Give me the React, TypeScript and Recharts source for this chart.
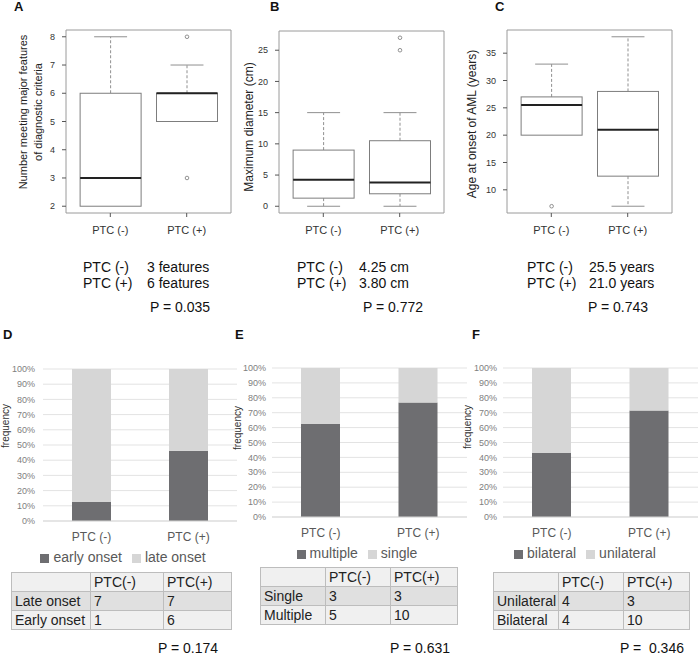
import React from "react";
import {
  ComposedChart,
  BarChart,
  Bar,
  XAxis,
  YAxis,
  CartesianGrid,
  ReferenceArea,
  Legend,
} from "recharts";

const FONT = '"Liberation Sans", Arial, Helvetica, sans-serif';

const groups = ["PTC (-)", "PTC (+)"];
const groupPos = [1, 2];

// A: number of major features
const featMin = [2, 5];
const featQ1 = [2, 5];
const featMed = [3, 6];
const featQ3 = [6, 6];
const featMax = [8, 7];
const featOut = [[], [3, 8]];

// B: maximum diameter (cm)
const diamMin = [0, 0];
const diamQ1 = [1.3, 2];
const diamMed = [4.25, 3.8];
const diamQ3 = [9, 10.5];
const diamMax = [15, 15];
const diamOut = [[], [25, 27]];

// C: age at onset of AML
const ageMin = [20, 7];
const ageQ1 = [20, 12.5];
const ageMed = [25.5, 21];
const ageQ3 = [27, 28];
const ageMax = [33, 38];
const ageOut = [[7], []];

// D-F: stacked percentages
const earlyPct = [12.5, 46.2];
const latePct = [87.5, 53.8];
const multiplePct = [62.5, 76.9];
const singlePct = [37.5, 23.1];
const bilateralPct = [42.9, 71.4];
const unilateralPct = [57.1, 28.6];
const pctTicks = [0, 10, 20, 30, 40, 50, 60, 70, 80, 90, 100];

// tables
const tableHead = ["", "PTC(-)", "PTC(+)"];
const onsetLabels = ["Late onset", "Early onset"];
const onsetNeg = [7, 1];
const onsetPos = [7, 6];
const lesionLabels = ["Single", "Multiple"];
const lesionNeg = [3, 5];
const lesionPos = [3, 10];
const sideLabels = ["Unilateral", "Bilateral"];
const sideNeg = [4, 4];
const sidePos = [3, 10];

function boxRows(mn: number[], q1: number[], med: number[], q3: number[], mx: number[], out: number[][]) {
  return groups.map((name, i) => ({
    name,
    pos: groupPos[i],
    min: mn[i],
    q1: q1[i],
    med: med[i],
    q3: q3[i],
    max: mx[i],
    out: out[i],
    lo: Math.min(mn[i], ...out[i]),
    hi: Math.max(mx[i], ...out[i]),
  }));
}

const BoxShape = (props: any) => {
  const { x, y, width, height, payload } = props;
  if (x == null || payload == null) return null;
  const top = Math.min(y, y + height);
  const bottom = Math.max(y, y + height);
  const { lo, hi } = payload;
  const py = (v: number) => (hi === lo ? top : top + ((hi - v) / (hi - lo)) * (bottom - top));
  const cx = x + width / 2;
  const cap = width * 0.27;
  const wc = "#8f8f8f";
  return (
    <g>
      {payload.max > payload.q3 && (
        <>
          <line x1={cx} x2={cx} y1={py(payload.q3)} y2={py(payload.max)} stroke={wc} strokeDasharray="3 2" />
          <line x1={cx - cap} x2={cx + cap} y1={py(payload.max)} y2={py(payload.max)} stroke={wc} />
        </>
      )}
      {payload.min < payload.q1 && (
        <>
          <line x1={cx} x2={cx} y1={py(payload.q1)} y2={py(payload.min)} stroke={wc} strokeDasharray="3 2" />
          <line x1={cx - cap} x2={cx + cap} y1={py(payload.min)} y2={py(payload.min)} stroke={wc} />
        </>
      )}
      <rect x={x} y={py(payload.q3)} width={width} height={py(payload.q1) - py(payload.q3)} fill="#fff" stroke="#7d7d7d" />
      <line x1={x} x2={x + width} y1={py(payload.med)} y2={py(payload.med)} stroke="#222" strokeWidth={2} />
      {payload.out.map((v: number, k: number) => (
        <circle key={k} cx={cx} cy={py(v)} r={1.8} fill="none" stroke="#777" strokeWidth={0.8} />
      ))}
    </g>
  );
};

const xDom: [number, number] = [0.42, 2.58];

function BoxPanel(p: { left: number; yw: number; mr: number; mt: number; domain: [number, number]; ticks: number[]; rows: any[] }) {
  return (
    <div style={{ position: "absolute", left: p.left, top: 0 }}>
      <ComposedChart width={240} height={245} data={p.rows} margin={{ top: p.mt, right: p.mr, bottom: 2, left: 0 }}>
        <XAxis
          dataKey="pos"
          type="number"
          domain={xDom}
          ticks={groupPos}
          interval={0}
          tickFormatter={(v: number) => groups[v - 1]}
          axisLine={false}
          tickLine={{ stroke: "#555" }}
          tickSize={4}
          tickMargin={9}
          height={30}
          tick={{ fontSize: 11, fill: "#333", fontFamily: FONT }}
          allowDataOverflow
        />
        <YAxis
          type="number"
          domain={p.domain}
          ticks={p.ticks}
          interval={0}
          width={p.yw}
          axisLine={false}
          tickLine={{ stroke: "#555" }}
          tickSize={4}
          tickMargin={7}
          tick={{ fontSize: 9, fill: "#333", fontFamily: FONT }}
          allowDataOverflow
        />
        <ReferenceArea x1={xDom[0]} x2={xDom[1]} y1={p.domain[0]} y2={p.domain[1]} fill="none" stroke="#9a9a9a" ifOverflow="visible" />
        <Bar dataKey={(d: any) => [d.lo, d.hi]} barSize={61} shape={BoxShape} isAnimationActive={false} />
      </ComposedChart>
    </div>
  );
}

function StackPanel(p: {
  left: number;
  yw: number;
  mr: number;
  mt: number;
  mb: number;
  tm: number;
  a: number[];
  b: number[];
  aName: string;
  bName: string;
  legendLeft: number;
  legendTop: number;
}) {
  const rows = groups.map((name, i) => ({ name, a: p.a[i], b: p.b[i] }));
  return (
    <div style={{ position: "absolute", left: p.left, top: 340 }}>
      <BarChart width={240} height={240} data={rows} margin={{ top: p.mt, right: p.mr, bottom: p.mb, left: 0 }}>
        <CartesianGrid vertical={false} stroke="#e3e3e3" />
        <XAxis
          dataKey="name"
          tickLine={false}
          axisLine={{ stroke: "#d9d9d9" }}
          tickSize={6}
          tickMargin={5}
          height={19}
          interval={0}
          tick={{ fontSize: 12, fill: "#595959", fontFamily: FONT }}
        />
        <YAxis
          type="number"
          domain={[0, 100]}
          ticks={pctTicks}
          interval={0}
          tickFormatter={(v: number) => `${v}%`}
          width={p.yw}
          axisLine={false}
          tickLine={false}
          tickMargin={p.tm}
          tick={{ fontSize: 9, fill: "#808080", fontFamily: FONT }}
        />
        <Legend
          verticalAlign="middle"
          align="center"
          layout="horizontal"
          iconType="square"
          iconSize={9}
          wrapperStyle={{ top: p.legendTop, left: p.legendLeft, width: 240, fontSize: 14, fontFamily: FONT, lineHeight: "18px" }}
          formatter={(v: string) => <span style={{ color: "#595959" }}>{v}</span>}
        />
        <Bar dataKey="a" name={p.aName} stackId="s" fill="#6e6e71" barSize={39} isAnimationActive={false} />
        <Bar dataKey="b" name={p.bName} stackId="s" fill="#d6d6d6" barSize={39} isAnimationActive={false} />
      </BarChart>
    </div>
  );
}

function CountTable(p: { left: number; top: number; widths: number[]; labels: string[]; neg: number[]; pos: number[] }) {
  const bgs = ["#f0f0f0", "#e0e0e0", "#f0f0f0"];
  const td = (w: number, bg: string): React.CSSProperties => ({
    width: w,
    height: 19,
    border: "1px solid #bdbdbd",
    padding: "0 3px",
    background: bg,
    lineHeight: "18px",
    whiteSpace: "nowrap",
    boxSizing: "border-box",
  });
  const body = [tableHead, ...p.labels.map((l, i) => [l, String(p.neg[i]), String(p.pos[i])])];
  return (
    <table
      style={{
        position: "absolute",
        left: p.left,
        top: p.top,
        borderCollapse: "collapse",
        tableLayout: "fixed",
        width: p.widths.reduce((s, w) => s + w, 0),
        fontFamily: FONT,
        fontSize: 14,
        color: "#222",
      }}
    >
      <tbody>
        {body.map((r, i) => (
          <tr key={i}>
            {r.map((c, j) => (
              <td key={j} style={td(p.widths[j], bgs[i])}>
                {c}
              </td>
            ))}
          </tr>
        ))}
      </tbody>
    </table>
  );
}

const T = (p: { x: number; y: number; s?: number; lh?: number; bold?: boolean; color?: string; children: React.ReactNode }) => (
  <div
    style={{
      position: "absolute",
      left: p.x,
      top: p.y,
      fontSize: p.s ?? 14,
      lineHeight: `${p.lh ?? 16}px`,
      fontWeight: p.bold ? "bold" : "normal",
      color: p.color ?? "#111",
      whiteSpace: "pre",
      fontFamily: FONT,
    }}
  >
    {p.children}
  </div>
);

const VT = (p: { x: number; y: number; s: number; color?: string; children: React.ReactNode }) => (
  <div
    style={{
      position: "absolute",
      left: p.x,
      top: p.y,
      fontSize: p.s,
      lineHeight: `${p.s + 2}px`,
      color: p.color ?? "#222",
      whiteSpace: "nowrap",
      fontFamily: FONT,
      transform: "translate(-50%, -50%) rotate(-90deg)",
    }}
  >
    {p.children}
  </div>
);

export default function App() {
  return (
    <div style={{ position: "absolute", left: 0, top: 0, width: 700, height: 655, background: "#fff", overflow: "hidden", fontFamily: FONT }}>
      <BoxPanel left={0} yw={66} mr={9} mt={30} domain={[1.76, 8.24]} ticks={[2, 3, 4, 5, 6, 7, 8]} rows={boxRows(featMin, featQ1, featMed, featQ3, featMax, featOut)} />
      <BoxPanel left={230} yw={49} mr={26} mt={31} domain={[-1.08, 28.08]} ticks={[0, 5, 10, 15, 20, 25]} rows={boxRows(diamMin, diamQ1, diamMed, diamQ3, diamMax, diamOut)} />
      <BoxPanel left={460} yw={47} mr={28} mt={30} domain={[5.76, 39.24]} ticks={[10, 15, 20, 25, 30, 35]} rows={boxRows(ageMin, ageQ1, ageMed, ageQ3, ageMax, ageOut)} />

      <StackPanel left={0} yw={43} mr={3} mt={29} mb={40} tm={2} a={earlyPct} b={latePct} aName="early onset" bName="late onset" legendLeft={8} legendTop={208} />
      <StackPanel left={230} yw={42} mr={3} mt={28} mb={44} tm={0} a={multiplePct} b={singlePct} aName="multiple" bName="single" legendLeft={12} legendTop={204} />
      <StackPanel left={460} yw={43} mr={2} mt={28} mb={44} tm={0} a={bilateralPct} b={unilateralPct} aName="bilateral" bName="unilateral" legendLeft={10} legendTop={204} />

      <T x={14} y={-1} s={13} bold>A</T>
      <T x={270} y={-1} s={13} bold>B</T>
      <T x={495} y={-1} s={13} bold>C</T>
      <T x={3} y={327} s={13} bold>D</T>
      <T x={235} y={327} s={13} bold>E</T>
      <T x={472} y={327} s={13} bold>F</T>

      <VT x={23} y={112} s={11}>Number meeting major features</VT>
      <VT x={38} y={112} s={11}>of diagnostic criteria</VT>
      <VT x={249} y={127} s={12}>Maximum diameter (cm)</VT>
      <VT x={472} y={124} s={12}>Age at onset of AML (years)</VT>
      <VT x={6} y={426} s={10} color="#333">frequency</VT>
      <VT x={238} y={428} s={10} color="#333">frequency</VT>
      <VT x={468} y={427} s={10} color="#333">frequency</VT>

      <T x={83} y={259}>PTC (-)</T>
      <T x={147} y={259}>3 features</T>
      <T x={83} y={275}>PTC (+)</T>
      <T x={147} y={275}>6 features</T>
      <T x={150} y={299}>P = 0.035</T>

      <T x={297} y={259}>PTC (-)</T>
      <T x={359} y={259}>4.25 cm</T>
      <T x={297} y={275}>PTC (+)</T>
      <T x={359} y={275}>3.80 cm</T>
      <T x={363} y={299}>P = 0.772</T>

      <T x={527} y={259}>PTC (-)</T>
      <T x={589} y={259}>25.5 years</T>
      <T x={527} y={275}>PTC (+)</T>
      <T x={589} y={275}>21.0 years</T>
      <T x={588} y={299}>P = 0.743</T>

      <CountTable left={11} top={572} widths={[79, 73, 68]} labels={onsetLabels} neg={onsetNeg} pos={onsetPos} />
      <CountTable left={260} top={567} widths={[65, 65, 67]} labels={lesionLabels} neg={lesionNeg} pos={lesionPos} />
      <CountTable left={493} top={572} widths={[65, 65, 66]} labels={sideLabels} neg={sideNeg} pos={sidePos} />

      <T x={158} y={641} lh={14}>P = 0.174</T>
      <T x={390} y={641} lh={14}>P = 0.631</T>
      <T x={620} y={641} lh={14}>P =  0.346</T>
    </div>
  );
}
